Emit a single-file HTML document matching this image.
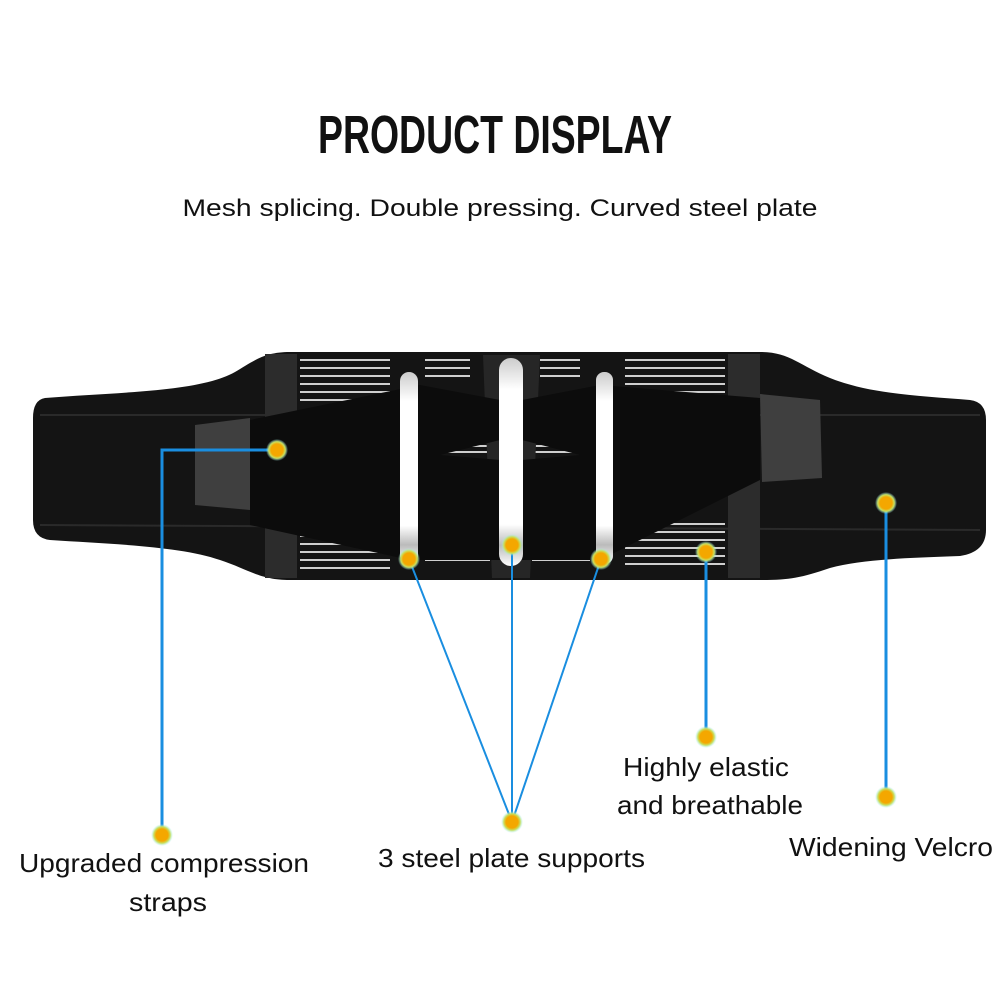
<!DOCTYPE html>
<html><head><meta charset="utf-8"><style>
html,body{margin:0;padding:0;background:#fff}
svg{display:block}
text{font-family:"Liberation Sans",sans-serif;fill:#111}
</style></head><body>
<svg width="1000" height="1000" viewBox="0 0 1000 1000">
<defs>
<radialGradient id="g"><stop offset="0.55" stop-color="#f4a700"/><stop offset="0.75" stop-color="#c8e060"/><stop offset="1" stop-color="#9ef0ff" stop-opacity="0"/></radialGradient>
<linearGradient id="pl" x1="0" y1="0" x2="0" y2="1"><stop offset="0" stop-color="#ccc"/><stop offset="0.15" stop-color="#fff"/><stop offset="0.8" stop-color="#fff"/><stop offset="0.9" stop-color="#bbb"/><stop offset="1" stop-color="#fff"/></linearGradient>
</defs>
<text x="495" y="153" text-anchor="middle" font-size="54" font-weight="bold" textLength="354" lengthAdjust="spacingAndGlyphs">PRODUCT DISPLAY</text>
<text x="500" y="216" text-anchor="middle" font-size="24" textLength="635" lengthAdjust="spacingAndGlyphs">Mesh splicing. Double pressing. Curved steel plate</text>

<!-- belt body -->
<path d="M45,398 C120,392 200,392 235,372 C255,360 265,352 290,352 L760,352 C790,352 800,366 830,378 C870,394 920,396 970,400 Q986,402 986,420 L986,530 Q986,552 960,556 C900,558 860,560 830,568 C800,578 790,580 760,580 L290,580 C260,580 250,570 220,560 C180,546 110,544 50,540 Q33,538 33,520 L33,418 Q33,400 45,398 Z" fill="#141414"/>
<path d="M40,415 L980,415 M40,525 L980,530" stroke="#2a2a2a" stroke-width="2"/>
<!-- dark grey vertical bands -->
<rect x="265" y="354" width="32" height="224" fill="#2c2c2c"/>
<rect x="728" y="354" width="32" height="224" fill="#2c2c2c"/>
<!-- stripes -->
<g stroke="#cfcfcf" stroke-width="2">
<path d="M300,360H390M300,368H390M300,376H390M300,384H390M300,392H390M300,400H380"/>
<path d="M425,360H470M425,368H470M425,376H470M540,360H580M540,368H580M540,376H580"/>
<path d="M625,360H725M625,368H725M625,376H725M625,384H725M625,392H725M625,400H725"/>
<path d="M300,528H390M300,536H390M300,544H390M300,552H390M300,560H390M300,568H390"/>
<path d="M425,544H490M425,552H490M425,560H490M532,544H590M532,552H590M532,560H590"/>
<path d="M625,524H725M625,532H725M625,540H725M625,548H725M625,556H725M625,564H725"/>
<path d="M440,446H490M440,452H490M535,446H585M535,452H585"/>
</g>
<!-- center dark strip -->
<path d="M483,355 L540,355 L530,578 L492,578 Z" fill="#262626"/>
<!-- straps -->
<path d="M250,420 L420,385 L500,400 L500,440 L440,455 L500,460 L500,560 L410,560 L250,525 Z" fill="#0c0c0c"/>
<path d="M760,398 L600,385 L522,400 L522,440 L580,455 L522,460 L522,560 L600,560 L760,480 Z" fill="#0c0c0c"/>
<path d="M195,425 L250,418 L250,510 L195,505 Z" fill="#3f3f3f"/>
<path d="M760,394 L820,400 L822,478 L762,482 Z" fill="#3f3f3f"/>
<!-- plates -->
<rect x="400" y="372" width="18" height="192" rx="9" fill="url(#pl)"/>
<rect x="499" y="358" width="24" height="208" rx="12" fill="url(#pl)"/>
<rect x="596" y="372" width="17" height="192" rx="8" fill="url(#pl)"/>

<!-- connectors -->
<g stroke="#1a8ee0" stroke-width="3" fill="none">
<path d="M277,450 H162 V835"/>
<path d="M706,552 V737"/>
<path d="M886,503 V797"/>
</g>
<g stroke="#1a8ee0" stroke-width="2" fill="none">
<path d="M409,559 L512,822 M512,545 L512,822 M601,559 L512,822"/>
</g>
<g fill="url(#g)">
<circle cx="277" cy="450" r="11"/><circle cx="409" cy="559" r="11"/><circle cx="512" cy="545" r="11"/>
<circle cx="601" cy="559" r="11"/><circle cx="706" cy="552" r="11"/><circle cx="886" cy="503" r="11"/>
<circle cx="162" cy="835" r="11"/><circle cx="512" cy="822" r="11"/><circle cx="706" cy="737" r="11"/><circle cx="886" cy="797" r="11"/>
</g>
<g font-size="26">
<text x="19" y="872" textLength="290" lengthAdjust="spacingAndGlyphs">Upgraded compression</text>
<text x="168" y="911" text-anchor="middle" textLength="78" lengthAdjust="spacingAndGlyphs">straps</text>
<text x="378" y="867" textLength="267" lengthAdjust="spacingAndGlyphs">3 steel plate supports</text>
<text x="623" y="776" textLength="166" lengthAdjust="spacingAndGlyphs">Highly elastic</text>
<text x="617" y="814" textLength="186" lengthAdjust="spacingAndGlyphs">and breathable</text>
<text x="789" y="856" textLength="204" lengthAdjust="spacingAndGlyphs">Widening Velcro</text>
</g>
</svg>
</body></html>
